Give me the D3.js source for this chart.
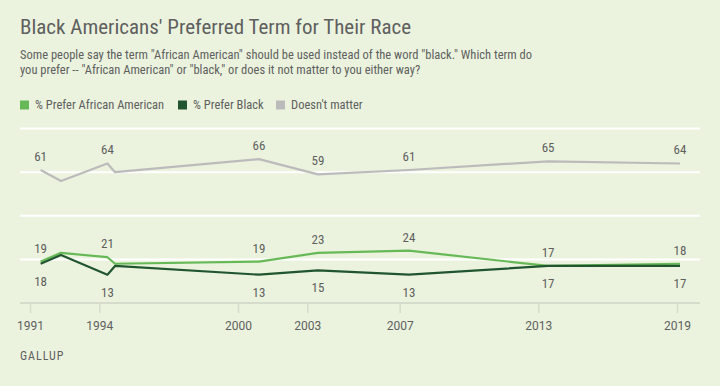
<!DOCTYPE html>
<html>
<head>
<meta charset="utf-8">
<script src="https://cdn.jsdelivr.net/npm/d3@7"></script>
<style>
  body { margin: 0; background: #ebf3de; }
  svg { display: block; }
  text { font-family: "Liberation Sans Narrow", "Roboto Condensed", Roboto, sans-serif; fill: #5f5f5f; }
</style>
</head>
<body>
<svg width="720" height="386"></svg>
<script>
// survey dates (decimal years) and results
var dates = [1991.46, 1992.34, 1994.35, 1994.68, 2000.91, 2003.46, 2007.40, 2013.42, 2019.13];
var preferAA = [19, 23, 21, 18, 19, 23, 24, 17, 18];
var preferBlack = [18, 22, 13, 17, 13, 15, 13, 17, 17];
var noMatter = [61, 56, 64, 60, 66, 59, 61, 65, 64];
// which points carry a value label
var labelled = [0, 2, 4, 5, 6, 7, 8];
var tickYears = [1991, 1994, 2000, 2003, 2007, 2013, 2019];
var gridValues = [20, 40, 60, 80];

var series = [
  {name: "% Prefer African American", values: preferAA, color: "#67b957", pos: "above"},
  {name: "% Prefer Black", values: preferBlack, color: "#21552f", pos: "below"},
  {name: "Doesn't matter", values: noMatter, color: "#bbbbbb", pos: "above"}
];

var svg = d3.select("svg");

var x = d3.scaleLinear().domain([1991, 2019]).range([30, 677]);
var y = d3.scaleLinear().domain([0, 80]).range([303, 128.6]);

// title + question
svg.append("text")
  .attr("x", 20).attr("y", 34)
  .style("font-size", "21px")
  .text("Black Americans' Preferred Term for Their Race");

svg.append("text")
  .attr("x", 20).attr("y", 59)
  .style("font-size", "12.5px")
  .text("Some people say the term \"African American\" should be used instead of the word \"black.\" Which term do");
svg.append("text")
  .attr("x", 20).attr("y", 74)
  .style("font-size", "12.5px")
  .text("you prefer -- \"African American\" or \"black,\" or does it not matter to you either way?");

// legend
var legendX = [20, 178, 276];
var legend = svg.append("g").attr("class", "legend");
series.forEach(function(s, i) {
  legend.append("rect")
    .attr("x", legendX[i]).attr("y", 100.5)
    .attr("width", 9).attr("height", 9)
    .attr("fill", s.color);
  legend.append("text")
    .attr("x", legendX[i] + 15).attr("y", 109)
    .style("font-size", "12.5px")
    .text(s.name);
});

// gridlines
svg.append("g").attr("class", "grid")
  .selectAll("line")
  .data(gridValues)
  .enter().append("line")
  .attr("x1", 20).attr("x2", 700)
  .attr("y1", d => y(d)).attr("y2", d => y(d))
  .attr("stroke", "#ffffff")
  .attr("stroke-width", 2);

// x axis
var xAxis = svg.append("g")
  .attr("transform", "translate(0," + y(0) + ")")
  .call(d3.axisBottom(x).tickValues(tickYears).tickFormat(d3.format("d")).tickSize(10).tickPadding(8));
xAxis.select(".domain").remove();
xAxis.insert("line", ":first-child")
  .attr("x1", 20).attr("x2", 700)
  .attr("stroke", "#d6dccc").attr("stroke-width", 2);
xAxis.selectAll(".tick line").attr("stroke", "#d6dccc").attr("stroke-width", 1.5);
xAxis.selectAll(".tick text")
  .attr("fill", "#5f5f5f")
  .style("font-size", "12px")
  .style("font-family", "\"Liberation Sans Narrow\", Roboto, sans-serif");

// lines
var line = d3.line()
  .x((d, i) => x(dates[i]))
  .y(d => y(d));

var plot = svg.append("g").attr("class", "lines");
[2, 0, 1].forEach(function(k) {
  var s = series[k];
  plot.append("path")
    .datum(s.values)
    .attr("fill", "none")
    .attr("stroke", s.color)
    .attr("stroke-width", 2.2)
    .attr("stroke-linejoin", "round")
    .attr("d", line);
});

// value labels
var labels = svg.append("g").attr("class", "labels");
series.forEach(function(s) {
  labels.selectAll(null)
    .data(labelled)
    .enter().append("text")
    .attr("x", i => x(dates[i]))
    .attr("y", i => s.pos == "above" ? y(s.values[i]) - 9 : y(s.values[i]) + 22)
    .attr("text-anchor", "middle")
    .style("font-size", "13px")
    .text(i => s.values[i]);
});

// source
svg.append("text")
  .attr("x", 20).attr("y", 360)
  .style("font-size", "12px")
  .style("letter-spacing", "1px")
  .text("GALLUP");
</script>
</body>
</html>
